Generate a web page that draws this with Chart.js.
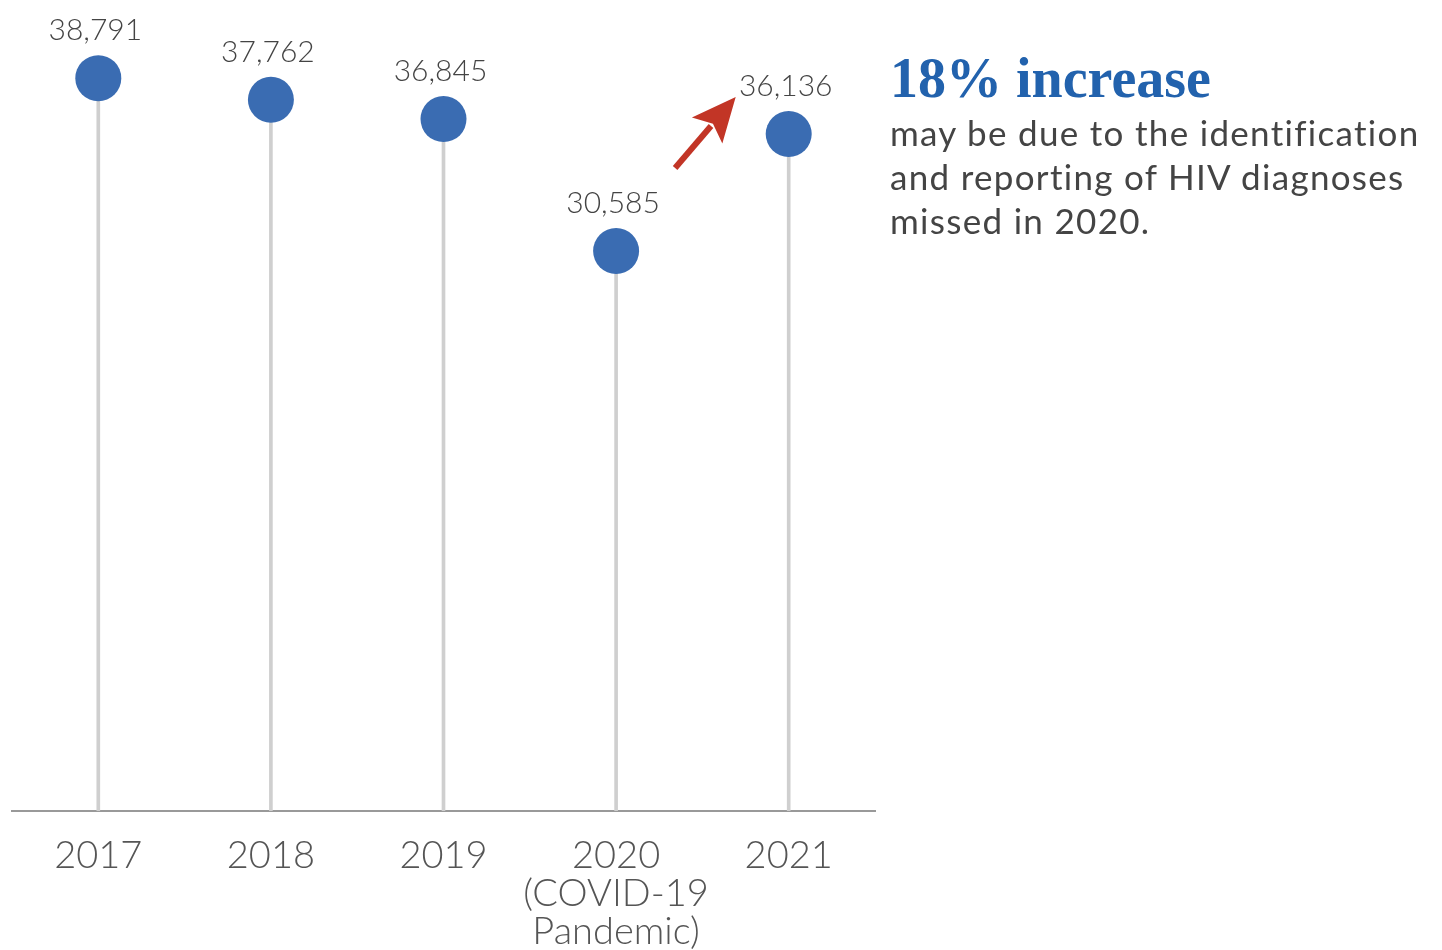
<!DOCTYPE html>
<html>
<head>
<meta charset="utf-8">
<script src="https://cdn.jsdelivr.net/npm/chart.js@4"></script>
<style>
  html, body { margin: 0; padding: 0; background: #fff; }
  #wrap { position: relative; width: 1442px; height: 950px; }
  canvas { position: absolute; left: 0; top: 0; }
  .nota { position: absolute; left: 890px; top: 46px; font-family: Lato, sans-serif; color: #444; }
  .nota h2 { margin: 0; font-family: "Liberation Serif", serif; font-weight: bold; font-size: 56px; line-height: 64px; color: #2262ad; }
  .nota p { margin: 0; font-size: 35px; line-height: 44px; letter-spacing: 1.3px; }
</style>
</head>
<body>
<div id="wrap">
  <canvas id="grafico" width="1442" height="950"></canvas>
  <div class="nota">
    <h2>18% increase</h2>
    <p>may be due to the identification<br>and reporting of HIV diagnoses<br>missed in 2020.</p>
  </div>
</div>
<script>
  const anos = ['2017', '2018', '2019', '2020', '2021'];
  const notasEixo = [[], [], [], ['(COVID-19', 'Pandemic)'], []];
  const diagnosticos = [38791, 37762, 36845, 30585, 36136];

  const raio = 23;
  const ctx = document.getElementById('grafico').getContext('2d');

  // rotulos de valor e seta entre 2020 e 2021
  const rotulosValores = {
    id: 'rotulosValores',
    afterDatasetsDraw(chart) {
      const c = chart.ctx;
      const pontos = chart.getDatasetMeta(1).data;
      c.save();
      c.font = '300 30px Lato';
      c.fillStyle = '#444';
      c.textAlign = 'center';
      c.textBaseline = 'alphabetic';
      pontos.forEach((p, i) => {
        c.fillText(diagnosticos[i].toLocaleString('en-US'), p.x - 3, p.y - raio - 15);
      });

      const a = pontos[3], b = pontos[4];
      const x1 = a.x + 59, y1 = a.y - 83;
      const x2 = b.x - 53, y2 = b.y - 37;
      const ang = Math.atan2(y2 - y1, x2 - x1);
      const cabeca = 44, meia = 20;
      const bx = x2 - cabeca * Math.cos(ang), by = y2 - cabeca * Math.sin(ang);
      c.strokeStyle = '#c23526';
      c.fillStyle = '#c23526';
      c.lineWidth = 6;
      c.beginPath();
      c.moveTo(x1, y1);
      c.lineTo(bx + 6 * Math.cos(ang), by + 6 * Math.sin(ang));
      c.stroke();
      c.beginPath();
      c.moveTo(x2, y2);
      c.lineTo(bx + meia * Math.sin(ang), by - meia * Math.cos(ang));
      c.lineTo(bx + 9 * Math.cos(ang), by + 9 * Math.sin(ang));
      c.lineTo(bx - meia * Math.sin(ang), by + meia * Math.cos(ang));
      c.closePath();
      c.fill();
      c.restore();
    }
  };

  new Chart(ctx, {
    type: 'bar',
    data: {
      labels: anos.map((a, i) => [a, ...notasEixo[i]]),
      datasets: [
        {
          type: 'bar',
          data: diagnosticos,
          backgroundColor: '#cfcfcf',
          barThickness: 3,
          order: 2
        },
        {
          type: 'line',
          data: diagnosticos,
          showLine: false,
          pointRadius: raio,
          pointHoverRadius: raio,
          pointBackgroundColor: '#3a6cb2',
          pointBorderWidth: 0,
          clip: false,
          order: 1
        }
      ]
    },
    options: {
      responsive: false,
      animation: false,
      layout: {
        autoPadding: false,
        padding: { left: 12, right: 567, top: 0, bottom: -19 }
      },
      scales: {
        x: {
          grid: { display: false },
          border: { color: '#999', width: 2 },
          ticks: {
            color: '#555',
            font: { family: 'Lato', weight: '300', size: 38, lineHeight: 1 },
            padding: 18,
            maxRotation: 0,
            autoSkip: false
          }
        },
        y: {
          display: false,
          min: 4000,
          max: 42500
        }
      },
      plugins: {
        legend: { display: false },
        tooltip: { enabled: false }
      }
    },
    plugins: [rotulosValores]
  });
</script>
</body>
</html>
